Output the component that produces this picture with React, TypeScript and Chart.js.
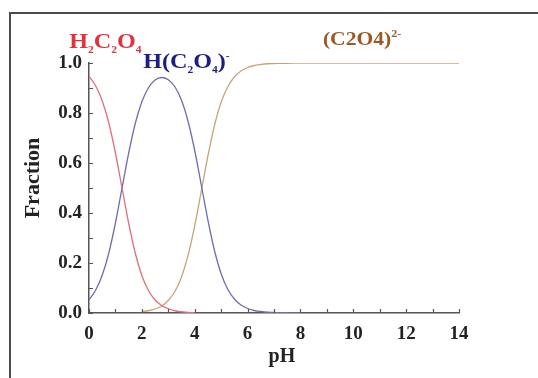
import React, { useEffect, useRef } from "react";
import { Chart, registerables } from "chart.js";

Chart.register(...registerables);

// pH grid for each species
const PH_H2C2O4 = [0, 0.25, 0.5, 0.75, 1, 1.25, 1.5, 1.75, 2, 2.25, 2.5, 2.75, 3, 3.25, 3.5, 3.75, 4];
const FRAC_H2C2O4 = [0.947, 0.909, 0.849, 0.76, 0.64, 0.5, 0.36, 0.24, 0.15, 0.09, 0.052, 0.03, 0.017, 0.009, 0.005, 0.002, 0.001];

const PH_HC2O4 = [0, 0.25, 0.5, 0.75, 1, 1.25, 1.5, 1.75, 2, 2.25, 2.5, 2.75, 3, 3.25, 3.5, 3.75, 4, 4.25, 4.5, 4.75, 5, 5.25, 5.5, 5.75, 6, 6.25, 6.5, 6.75, 7, 7.25, 7.5, 7.75, 8];
const FRAC_HC2O4 = [0.053, 0.091, 0.151, 0.24, 0.36, 0.5, 0.639, 0.758, 0.845, 0.901, 0.932, 0.942, 0.933, 0.905, 0.851, 0.766, 0.65, 0.511, 0.371, 0.249, 0.157, 0.095, 0.056, 0.032, 0.018, 0.01, 0.006, 0.003, 0.002, 0.001, 0.001, 0.0, 0.0];

const PH_C2O4 = [2, 2.25, 2.5, 2.75, 3, 3.25, 3.5, 3.75, 4, 4.25, 4.5, 4.75, 5, 5.25, 5.5, 5.75, 6, 6.25, 6.5, 6.75, 7, 7.25, 7.5, 8, 9, 10, 11, 12, 13, 14];
const FRAC_C2O4 = [0.005, 0.009, 0.016, 0.028, 0.05, 0.086, 0.144, 0.231, 0.349, 0.488, 0.629, 0.751, 0.843, 0.905, 0.944, 0.968, 0.982, 0.99, 0.994, 0.997, 0.998, 0.999, 0.999, 1.0, 1.0, 1.0, 1.0, 1.0, 1.0, 1.0];

const X_MIN = 0;
const X_MAX = 14;
const X_LABEL_STEP = 2;
const X_MINOR_STEP = 1;
const Y_MIN = 0;
const Y_MAX = 1;
const Y_LABEL_STEP = 0.2;
const Y_MINOR_STEP = 0.1;

const X_TITLE = "pH";
const Y_TITLE = "Fraction";

type Seg = { t: string; k?: "sub" | "sup" };
const LABEL_H2C2O4: Seg[] = [{ t: "H" }, { t: "2", k: "sub" }, { t: "C" }, { t: "2", k: "sub" }, { t: "O" }, { t: "4", k: "sub" }];
const LABEL_HC2O4: Seg[] = [{ t: "H(C" }, { t: "2", k: "sub" }, { t: "O" }, { t: "4", k: "sub" }, { t: ")" }, { t: "-", k: "sup" }];
const LABEL_C2O4: Seg[] = [{ t: "(C2O4)" }, { t: "2-", k: "sup" }];

const SERIF = "'Liberation Serif', 'Times New Roman', serif";

function toPoints(xs: number[], ys: number[]) {
  return xs.map((x, i) => ({ x, y: ys[i] }));
}

function drawRich(
  ctx: CanvasRenderingContext2D,
  segs: Seg[],
  x: number,
  y: number,
  color: string,
  size: number,
  smallRatio: number,
  stretch: number
) {
  ctx.save();
  ctx.translate(x, y);
  ctx.scale(stretch, 1);
  ctx.fillStyle = color;
  ctx.textBaseline = "alphabetic";
  ctx.textAlign = "left";
  let cx = 0;
  const small = Math.round(size * smallRatio);
  for (const s of segs) {
    ctx.font = s.k ? `bold ${small}px ${SERIF}` : `bold ${size}px ${SERIF}`;
    const dy = s.k === "sub" ? size * 0.26 : s.k === "sup" ? -size * 0.42 : 0;
    ctx.fillText(s.t, cx, dy);
    cx += ctx.measureText(s.t).width;
  }
  ctx.restore();
}

const decorPlugin = {
  id: "decor",
  afterDraw(chart: any) {
    const ctx: CanvasRenderingContext2D = chart.ctx;
    const xs = chart.scales.x;
    const ys = chart.scales.y;
    const area = chart.chartArea;

    // frame of the figure
    ctx.save();
    ctx.strokeStyle = "#4a4a4a";
    ctx.lineWidth = 2;
    ctx.beginPath();
    ctx.moveTo(10, chart.height);
    ctx.lineTo(10, 13);
    ctx.lineTo(chart.width, 13);
    ctx.stroke();
    ctx.restore();

    // inward tick marks
    ctx.save();
    ctx.strokeStyle = "#555";
    ctx.lineWidth = 1.2;
    ctx.beginPath();
    for (let v = X_MIN; v <= X_MAX + 1e-9; v += X_MINOR_STEP) {
      const px = Math.round(xs.getPixelForValue(v)) + 0.5;
      ctx.moveTo(px, area.bottom);
      ctx.lineTo(px, area.bottom - 4);
    }
    for (let v = Y_MIN; v <= Y_MAX + 1e-9; v += Y_MINOR_STEP) {
      const py = Math.round(ys.getPixelForValue(v)) + 0.5;
      ctx.moveTo(area.left, py);
      ctx.lineTo(area.left + 4, py);
    }
    ctx.stroke();
    ctx.restore();

    // axis titles
    ctx.save();
    ctx.fillStyle = "#222";
    ctx.font = `bold 20px ${SERIF}`;
    ctx.textAlign = "center";
    ctx.textBaseline = "middle";
    ctx.fillText(X_TITLE, xs.getPixelForValue(7.3), 357);
    ctx.font = `bold 22px ${SERIF}`;
    ctx.translate(33, ys.getPixelForValue(0.54));
    ctx.rotate(-Math.PI / 2);
    ctx.fillText(Y_TITLE, 0, 0);
    ctx.restore();

    // species labels
    drawRich(ctx, LABEL_H2C2O4, xs.getPixelForValue(-0.75), ys.getPixelForValue(1.062), "#e2323c", 21, 0.48, 1.15);
    drawRich(ctx, LABEL_HC2O4, xs.getPixelForValue(2.05), ys.getPixelForValue(0.982), "#1e1e82", 21, 0.48, 1.15);
    drawRich(ctx, LABEL_C2O4, xs.getPixelForValue(8.85), ys.getPixelForValue(1.072), "#9c5a22", 18, 0.56, 1.2);
  },
};

export default function App() {
  const ref = useRef<HTMLCanvasElement | null>(null);

  useEffect(() => {
    document.body.style.margin = "0";
    const canvas = ref.current;
    if (!canvas) return;
    const common = {
      pointRadius: 0,
      borderWidth: 1.3,
      fill: false,
      cubicInterpolationMode: "monotone" as const,
    };
    const chart = new Chart(canvas, {
      type: "line",
      data: {
        datasets: [
          { ...common, label: "H2C2O4", data: toPoints(PH_H2C2O4, FRAC_H2C2O4), borderColor: "#e0707a" },
          { ...common, label: "HC2O4-", data: toPoints(PH_HC2O4, FRAC_HC2O4), borderColor: "#6e6eae" },
          { ...common, label: "C2O4 2-", data: toPoints(PH_C2O4, FRAC_C2O4), borderColor: "#c9a478" },
        ],
      },
      options: {
        animation: false,
        responsive: false,
        devicePixelRatio: 1,
        layout: { padding: { top: 63, right: 79, bottom: 0, left: 0 } },
        plugins: { legend: { display: false }, tooltip: { enabled: false } },
        scales: {
          x: {
            type: "linear",
            min: X_MIN,
            max: X_MAX,
            grid: { display: false, drawTicks: false },
            border: { display: true, color: "#555", width: 1.5 },
            ticks: {
              stepSize: X_LABEL_STEP,
              padding: 10,
              color: "#222",
              font: { family: SERIF, size: 19, weight: "bold" },
              maxRotation: 0,
            },
            afterFit: (s: any) => {
              s.height = 65;
            },
          },
          y: {
            type: "linear",
            min: Y_MIN,
            max: Y_MAX,
            grid: { display: false, drawTicks: false },
            border: { display: true, color: "#555", width: 1.5 },
            ticks: {
              stepSize: Y_LABEL_STEP,
              padding: 7,
              color: "#222",
              font: { family: SERIF, size: 19, weight: "bold" },
              callback: (v: any) => Number(v).toFixed(1),
            },
            afterFit: (s: any) => {
              s.width = 89;
            },
          },
        },
      },
      plugins: [decorPlugin],
    });
    return () => chart.destroy();
  }, []);

  return (
    <div style={{ width: 538, height: 378, background: "#fff" }}>
      <canvas ref={ref} width={538} height={378} style={{ display: "block", width: 538, height: 378 }} />
    </div>
  );
}
